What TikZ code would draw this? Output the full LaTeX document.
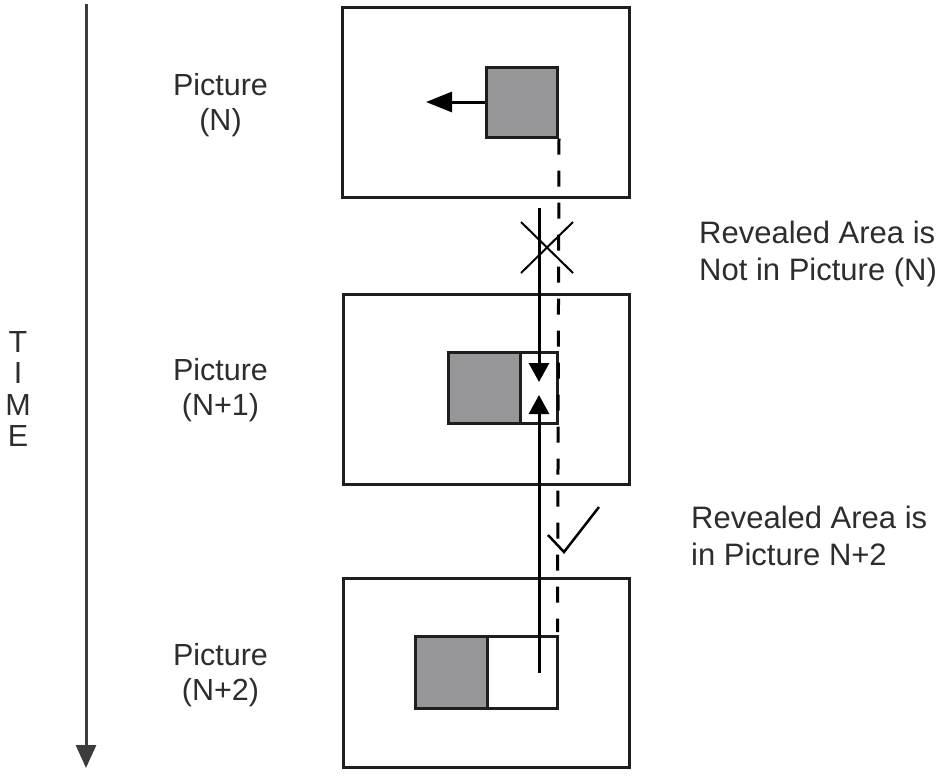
\documentclass[tikz,border=0pt]{standalone}
\usepackage{fontspec}
\setmainfont{Liberation Sans}
\usetikzlibrary{arrows.meta}
\definecolor{fillgray}{RGB}{150,150,152}
\definecolor{ink}{RGB}{30,30,30}
\definecolor{txt}{RGB}{45,45,45}
\definecolor{timegray}{RGB}{60,60,60}
\begin{document}
\begin{tikzpicture}[x=1pt,y=-1pt,
  frame/.style={draw=ink, line width=3pt, fill=white, inner sep=0pt, rectangle},
  graybox/.style={draw=ink, line width=3pt, fill=fillgray, inner sep=0pt, rectangle},
  whitebox/.style={draw=ink, line width=3pt, fill=white, inner sep=0pt, rectangle},
  lbl/.style={text=txt, font=\fontsize{30.5}{35}\selectfont, inner sep=0pt, align=center},
  sidelbl/.style={text=txt, font=\fontsize{31}{37}\selectfont, inner sep=0pt, align=left, anchor=north west},
  mv/.style={draw=black, line width=3pt},
  bigtip/.style={-{Triangle[length=26pt,width=20pt]}},
  smalltip/.style={-{Triangle[length=19pt,width=20pt]}},
  marks/.style={draw=black, line width=2pt}
]
\useasboundingbox (0,0) rectangle (951,780);

% picture frames
\node[frame, minimum width=287pt, minimum height=190pt] (box1) at (485.5,102) {};
\node[frame, minimum width=286pt, minimum height=190pt] (box2) at (486,389) {};
\node[frame, minimum width=286pt, minimum height=189pt] (box3) at (486,672.5) {};

% moving object and revealed areas
\node[graybox, minimum width=71.5pt, minimum height=70pt] (sq1) at (521.75,102) {};
\node[graybox, minimum width=72pt, minimum height=71pt] (sq2) at (484,387.5) {};
\node[whitebox, minimum width=37.5pt, minimum height=71pt] (rev2) at (538.75,387.5) {};
\node[graybox, minimum width=72pt, minimum height=72pt] (sq3) at (451,672) {};
\node[whitebox, minimum width=70.5pt, minimum height=72pt] (rev3) at (522.25,672) {};

% motion arrow
\coordinate (mvtip) at (426,102);
\draw[mv, bigtip] (sq1.west) -- (mvtip);

% solid reference line with arrows
\coordinate (s0) at (539,208);
\coordinate (s1) at (539,382);
\coordinate (s2) at (539,395);
\coordinate (s3) at (539,673);
\draw[mv, smalltip] (s0) -- (s1);
\draw[mv, smalltip] (s3) -- (s2);

% dashed line
\coordinate (d1) at (557.5,632);
\draw[mv, dash pattern=on 16pt off 16pt] (sq1.south east) -- (d1);

% cross and check marks
\draw[marks] (521,222) -- (573,273) (573,222) -- (521,273);
\draw[marks, line width=2.5pt] (548,535) -- (564,552) -- (599,507);

% time arrow
\coordinate (t0) at (86,4);
\coordinate (t1) at (86,768);
\draw[line width=3pt, draw=timegray, -{Triangle[length=23pt,width=20pt]}] (t0) -- (t1);
\node[lbl, anchor=north, font=\fontsize{30.5}{31.5}\selectfont] (time) at (18,331) {T\\I\\M\\E};

% labels
\node[lbl, anchor=north] (lp1) at (220.5,73) {Picture\\(N)};
\node[lbl, anchor=north] (lp2) at (220.5,358) {Picture\\(N+1)};
\node[lbl, anchor=north] (lp3) at (220.5,643) {Picture\\(N+2)};
\node[sidelbl] (rv1) at (699,221) {Revealed Area is\\Not in Picture (N)};
\node[sidelbl] (rv2) at (691,506) {Revealed Area is\\in Picture N+2};
\end{tikzpicture}
\end{document}
